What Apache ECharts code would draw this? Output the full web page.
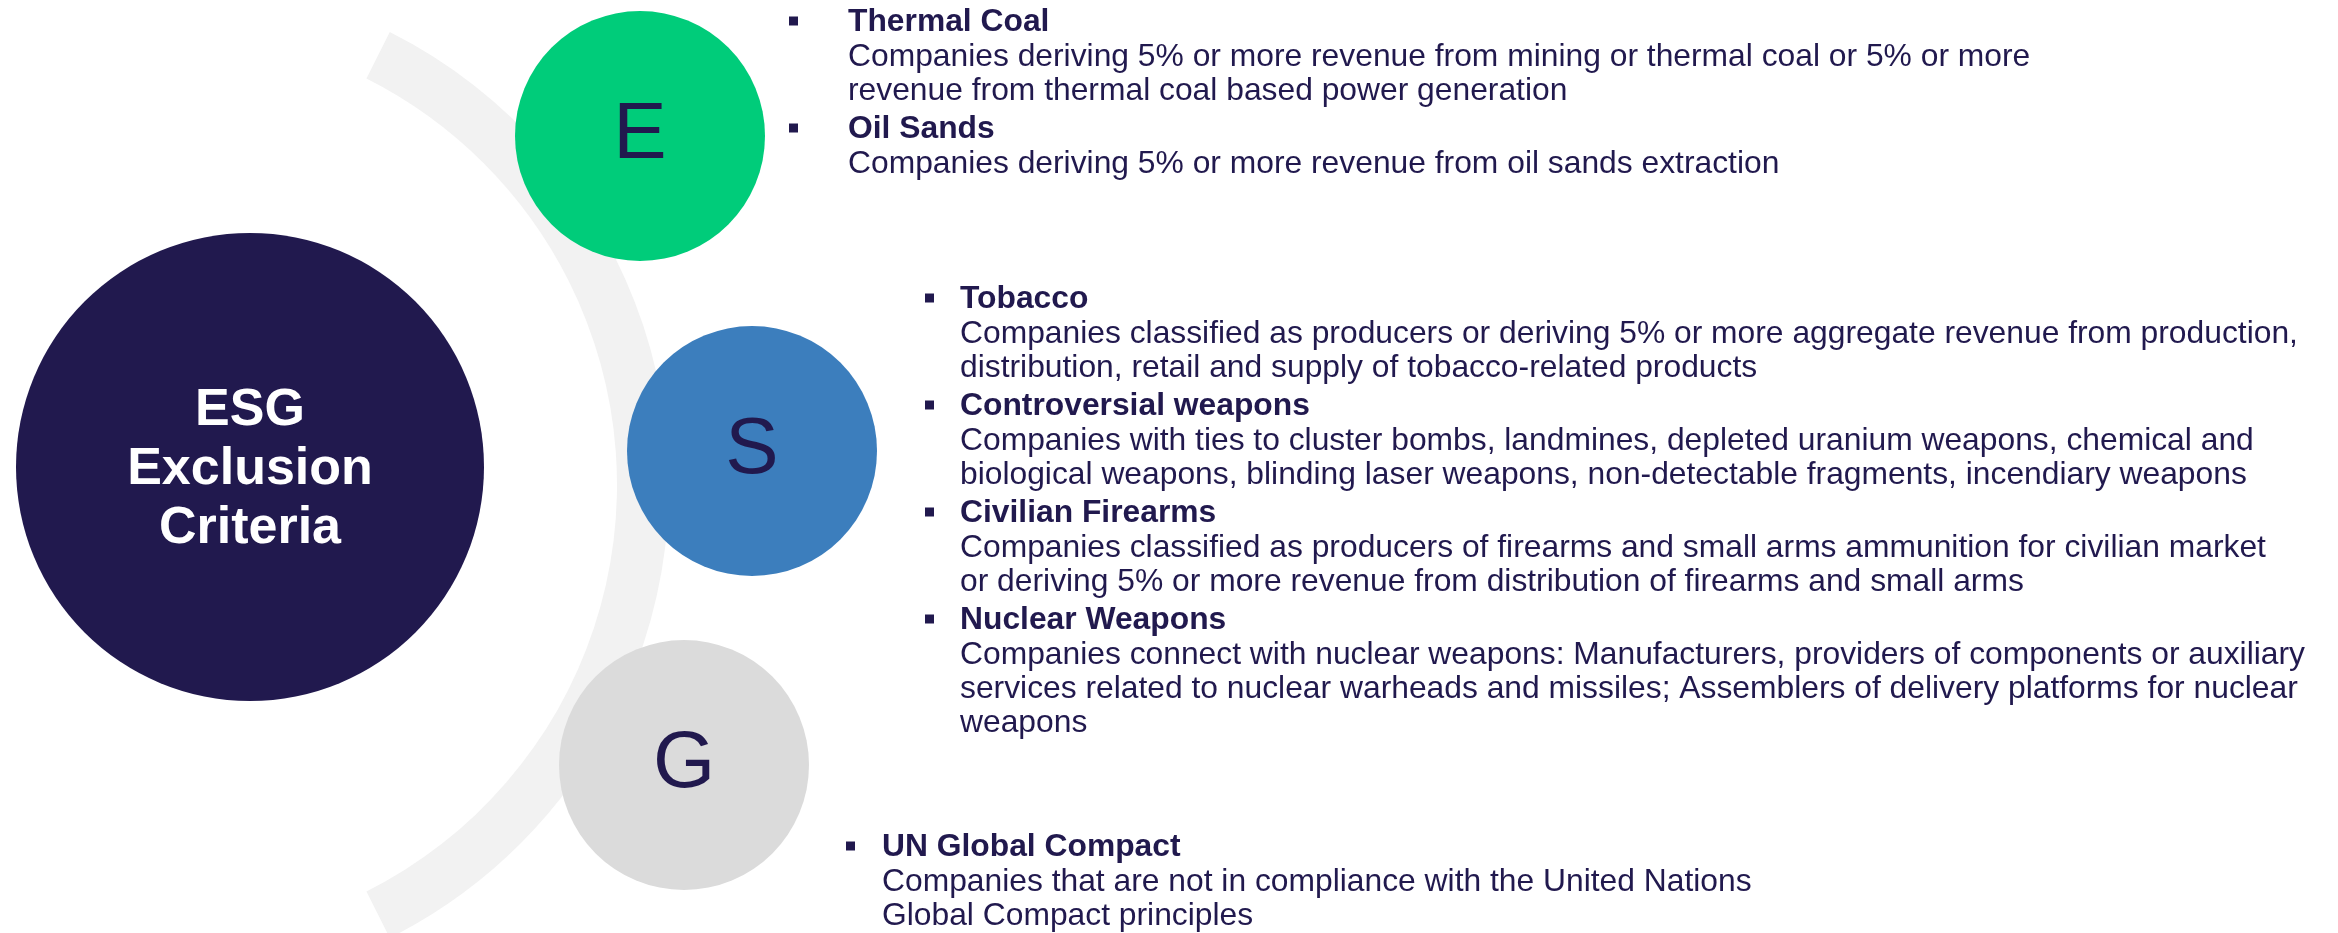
<!DOCTYPE html>
<html>
<head>
<meta charset="utf-8">
<title>ESG Exclusion Criteria</title>
<script src="https://cdn.jsdelivr.net/npm/echarts@6/dist/echarts.min.js"></script>
<style>
  html, body { margin: 0; padding: 0; background: #fff; }
  #chart { width: 2338px; height: 933px; }
</style>
</head>
<body>
<div id="chart"></div>
<script>
  // ---- content ----
  const hubTitle = ['ESG', 'Exclusion', 'Criteria'];
  const pillarLetters = ['E', 'S', 'G'];

  const envItems = ['Thermal Coal', 'Oil Sands'];
  const envDetails = [
    ['Companies deriving 5% or more revenue from mining or thermal coal or 5% or more',
     'revenue from thermal coal based power generation'],
    ['Companies deriving 5% or more revenue from oil sands extraction']
  ];

  const socItems = ['Tobacco', 'Controversial weapons', 'Civilian Firearms', 'Nuclear Weapons'];
  const socDetails = [
    ['Companies classified as producers or deriving 5% or more aggregate revenue from production,',
     'distribution, retail and supply of tobacco-related products'],
    ['Companies with ties to cluster bombs, landmines, depleted uranium weapons, chemical and',
     'biological weapons, blinding laser weapons, non-detectable fragments, incendiary weapons'],
    ['Companies classified as producers of firearms and small arms ammunition for civilian market',
     'or deriving 5% or more revenue from distribution of firearms and small arms'],
    ['Companies connect with nuclear weapons: Manufacturers, providers of components or auxiliary',
     'services related to nuclear warheads and missiles; Assemblers of delivery platforms for nuclear',
     'weapons']
  ];

  const govItems = ['UN Global Compact'];
  const govDetails = [
    ['Companies that are not in compliance with the United Nations',
     'Global Compact principles']
  ];

  // ---- look ----
  const FONT = "'Liberation Sans', Arial, sans-serif";
  const NAVY = '#21194e';
  const pillarColors = ['#00cc7a', '#3c7ebd', '#dbdbdb'];
  const pillarPos = [[640, 136], [752, 451], [684, 765]];
  const PILLAR_R = 125;
  const TITLE_TO_TEXT = 35;  // title baseline -> first description line
  const LINE = 34;           // description line pitch
  const TEXT_TO_TITLE = 38;  // last description line -> next title
  const TXT = 31.8;

  function textEl(str, x, baseline, size, weight, fill, align) {
    return {
      type: 'text',
      x: x,
      y: baseline - size * 0.31,
      style: {
        text: str,
        fontFamily: FONT,
        fontSize: size,
        fontWeight: weight,
        fill: fill,
        align: align || 'left',
        verticalAlign: 'middle'
      },
      z: 10
    };
  }

  function bulletBlock(items, details, bulletX, textX, firstBaseline) {
    const els = [];
    let base = firstBaseline;
    items.forEach(function (title, i) {
      if (i > 0) base += TEXT_TO_TITLE;
      els.push({
        type: 'rect',
        shape: { x: bulletX, y: base - 11 - 4.5, width: 9, height: 9 },
        style: { fill: NAVY },
        z: 10
      });
      els.push(textEl(title, textX, base, TXT, 'bold', NAVY));
      details[i].forEach(function (line, j) {
        base += j === 0 ? TITLE_TO_TEXT : LINE;
        els.push(textEl(line, textX, base, TXT, 'normal', NAVY));
      });
    });
    return els;
  }

  const graphics = [];

  // background arc
  const a = 63.3 * Math.PI / 180;
  graphics.push({
    type: 'sector',
    shape: { cx: 162, cy: 485, r0: 455, r: 507, startAngle: -a, endAngle: a, clockwise: true },
    style: { fill: '#f2f2f2' },
    z: 1
  });

  // hub circle
  graphics.push({
    type: 'circle',
    shape: { cx: 250, cy: 467, r: 234 },
    style: { fill: NAVY },
    z: 2
  });
  hubTitle.forEach(function (t, i) {
    graphics.push(textEl(t, 250, 427 + i * 59, 52, 'bold', '#ffffff', 'center'));
  });

  // pillar circles
  pillarLetters.forEach(function (letter, i) {
    const p = pillarPos[i];
    graphics.push({
      type: 'circle',
      shape: { cx: p[0], cy: p[1], r: PILLAR_R },
      style: { fill: pillarColors[i] },
      z: 3
    });
    graphics.push({
      type: 'text',
      x: p[0],
      y: p[1],
      style: {
        text: letter,
        fontFamily: FONT,
        fontSize: 80,
        fill: NAVY,
        align: 'center',
        verticalAlign: 'middle'
      },
      z: 4
    });
  });

  // bullet lists
  Array.prototype.push.apply(graphics, bulletBlock(envItems, envDetails, 789, 848, 32));
  Array.prototype.push.apply(graphics, bulletBlock(socItems, socDetails, 925, 960, 309));
  Array.prototype.push.apply(graphics, bulletBlock(govItems, govDetails, 846, 882, 857));

  const chart = echarts.init(document.getElementById('chart'), null, { renderer: 'canvas' });
  chart.setOption({
    backgroundColor: '#ffffff',
    animation: false,
    graphic: { elements: graphics }
  });
</script>
</body>
</html>
